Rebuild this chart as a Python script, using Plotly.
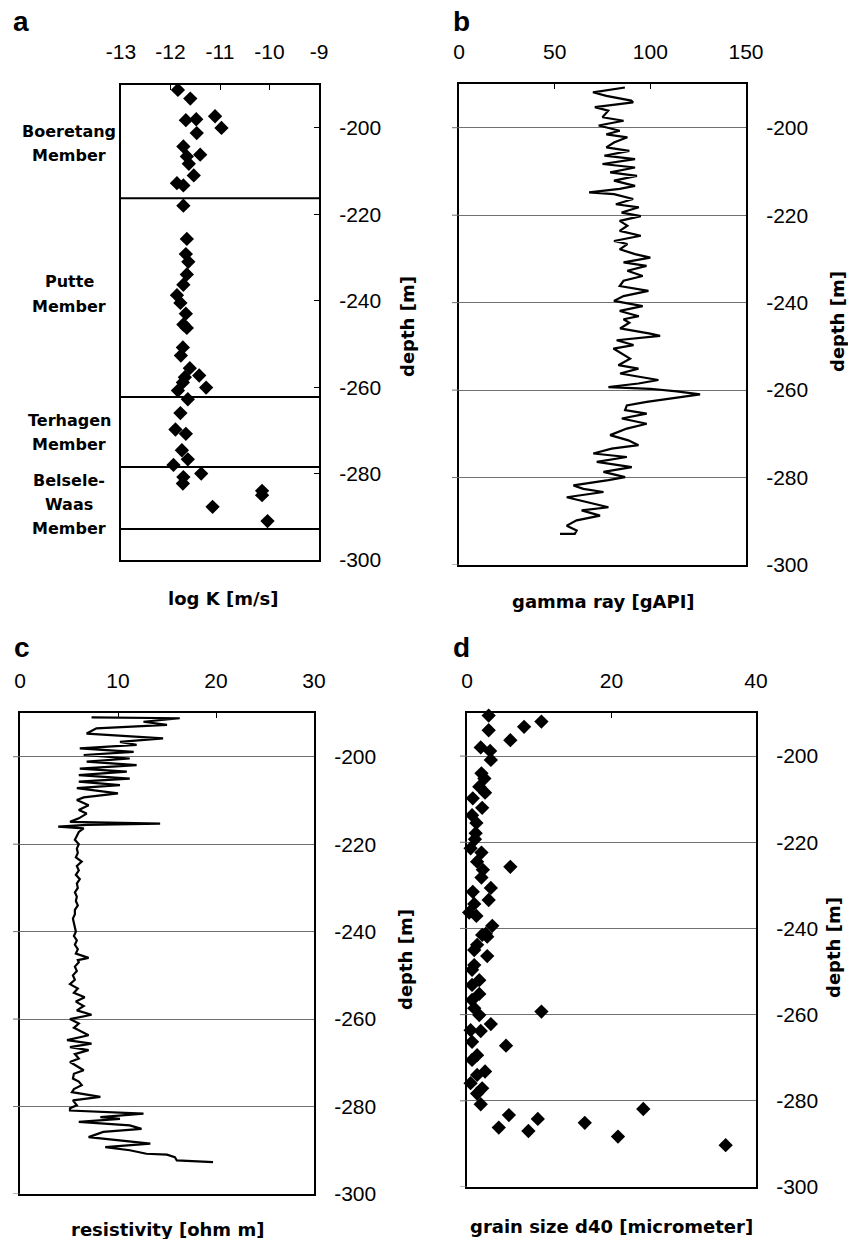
import plotly.graph_objects as go

W, H = 848, 1239

# ---------------- data ----------------
# (a) hydraulic conductivity, log K [m/s] vs depth [m]
logk_depth = [-191.2, -193.2, -197.3, -198.2, -198.0, -200.0, -201.2, -204.3, -206.2, -206.6,
              -208.3, -211.0, -212.8, -213.3, -218.0, -225.7, -229.2, -231.0, -233.9, -236.3,
              -238.7, -240.5, -243.0, -245.5, -246.3, -250.8, -252.7, -255.6, -257.3, -257.7,
              -258.9, -260.1, -260.8, -262.8, -266.0, -269.8, -270.8, -274.6, -276.7, -278.0,
              -280.0, -280.8, -282.3, -284.0, -285.0, -287.7, -291.0]
logk_value = [-11.85, -11.60, -11.10, -11.69, -11.48, -10.97, -11.47, -11.74, -11.40, -11.67,
              -11.63, -11.53, -11.87, -11.74, -11.74, -11.67, -11.69, -11.64, -11.67, -11.74,
              -11.87, -11.80, -11.69, -11.74, -11.67, -11.75, -11.79, -11.61, -11.42, -11.71,
              -11.75, -11.28, -11.85, -11.65, -11.80, -11.90, -11.69, -11.77, -11.65, -11.94,
              -11.38, -11.74, -11.75, -10.15, -10.15, -11.15, -10.04]

# lithostratigraphic members and their lower boundaries
member_bounds = [-216.3, -262.3, -278.5, -292.8]
member_lines = [["Boeretang", "Member"], ["Putte", "Member"],
                ["Terhagen", "Member"], ["Belsele-", "Waas", "Member"]]

# (b) gamma ray log [gAPI]
gamma_depth = [-190.8, -191.9, -192.7, -193.8, -194.2, -195.3, -196.1, -197.6, -198.4, -199.5,
               -200.7, -201.5, -202.2, -203.4, -204.5, -205.3, -206.4, -207.2, -208.3, -209.1,
               -210.2, -211.0, -212.1, -213.3, -214.0, -214.8, -215.2, -216.3, -217.5, -218.2,
               -219.4, -220.2, -221.3, -222.4, -223.6, -224.7, -225.9, -226.6, -227.8, -228.9,
               -229.7, -230.8, -231.6, -232.7, -233.9, -235.0, -236.2, -237.3, -238.5, -239.6,
               -240.8, -241.9, -243.1, -243.8, -244.6,
               -245.9, -247.1, -247.6, -248.6, -249.7, -250.5, -251.6, -252.8, -254.3, -255.1,
               -256.2, -257.0, -257.7, -258.5, -259.3, -259.7, -260.3, -261.0, -261.9, -262.7,
               -263.5, -264.6, -265.4, -266.5, -267.7, -268.8, -270.3, -271.5, -272.6, -273.4,
               -274.5, -275.3, -276.4, -277.6, -278.7, -279.9, -280.6, -281.8, -282.6, -283.3,
               -284.5, -285.6, -286.8, -287.5, -288.7, -289.8, -291.0, -292.1, -292.9, -292.9]
gamma_value = [86.7, 70, 77, 90, 91, 71, 78, 75, 86, 73,
               84, 77, 88, 81, 77, 89, 76, 92, 75, 92,
               79, 93, 81, 92, 84, 68, 81, 91, 82, 94,
               85, 95, 84, 88, 84, 95, 81, 88, 84, 92,
               100, 86, 98, 88, 96, 86, 84, 99, 86, 81,
               96, 84, 94, 86, 89,
               84.2, 99.9, 105.1, 82.4, 91.2, 80.7, 85.1, 89.4, 83.3, 93.8,
               84.2, 93.8, 104.2, 93.8, 78.1, 99.9, 113.8, 126.0, 110.3, 98.1,
               87.7, 86.8, 98.1, 85.1, 98.1, 87.7, 79.0, 88.5, 93.8, 79.8,
               70.2, 87.7, 72.0, 90.3, 75.5, 86.8, 78.1, 59.8, 65.0, 75.5,
               56.3, 66.8, 78.1, 64.1, 73.7, 61.5, 56.3, 61.5, 60.5, 52.8]

# (c) resistivity log [ohm m]
res_depth = [-191.0, -191.2, -192.0, -192.7, -193.5, -194.7, -195.8, -196.6, -197.3, -198.1,
             -198.9, -199.6, -200.4, -201.1, -201.9, -202.7, -203.4, -204.2, -205.0, -205.7,
             -206.5, -207.2, -208.4, -209.3, -209.9, -211.1, -212.2, -213.0, -214.1, -214.9,
             -215.3, -215.6, -216.0, -216.4, -217.2,
             -218, -219, -220, -221, -222, -223, -224, -225, -226, -227,
             -228, -229, -230, -231, -232, -233, -234, -235, -236, -237,
             -238, -239, -240, -241, -242, -243, -244, -245, -246, -246.5,
             -247, -248, -249, -250, -251, -252, -253, -254, -255, -256,
             -257, -258, -259, -260, -261, -262, -263, -263.7, -264.8, -265.6,
             -266.4, -267.1, -268, -269, -269.8, -271, -271.7, -272.5, -273.6, -274.3,
             -275.1, -276, -276.7, -277.8, -278.6, -279.7, -280.4, -280.9,
             -281.3, -281.6, -282.4, -282.8, -283.5, -284.3, -285.1, -285.8, -287.0, -287.7,
             -288.5, -289.3, -290.0, -290.8, -291.0, -291.6, -292.3, -292.7]
res_value = [7.3, 16.3, 12.6, 15.0, 7.8, 6.8, 14.6, 10.2, 11.9, 6.1,
             11.6, 6.5, 11.2, 6.8, 11.9, 6.1, 10.9, 6.0, 11.2, 6.0,
             10.2, 5.8, 10.0, 6.5, 5.8, 7.0, 6.0, 6.8, 6.0, 5.1,
             14.3, 6.8, 3.9, 6.5, 6.0,
             5.8, 5.6, 6.0, 5.8, 5.9, 5.7, 6.3, 5.8, 6.0, 5.7,
             6.1, 5.8, 5.9, 5.6, 5.8, 5.7, 5.9, 5.6, 5.6, 5.4,
             5.5, 5.6, 5.7, 5.5, 5.8, 5.6, 5.9, 5.7, 7.0, 5.9,
             6.0, 5.6, 5.8, 5.4, 5.6, 5.1, 5.9, 5.5, 6.6, 5.7,
             6.5, 5.8, 7.3, 5.1, 6.0, 5.5, 6.3, 7.0, 4.8, 7.3,
             5.1, 7.0, 5.6, 6.0, 5.1, 5.9, 6.5, 5.5, 5.4, 6.0,
             6.3, 5.5, 5.3, 8.2, 5.4, 5.8, 5.1, 5.1,
             8.8, 12.6, 8.2, 10.2, 6.0, 11.2, 12.4, 8.5, 7.0, 10.2,
             13.3, 8.7, 11.2, 12.9, 15.0, 15.8, 16.0, 19.7]

# (d) grain size d40 [micrometer]
d40_depth = [-190.6, -192.0, -193.2, -194.0, -196.3, -198.0, -198.8, -200.9, -204.0, -205.2,
             -207.1, -208.5, -209.8, -212.0, -213.7, -215.5, -217.9, -219.3, -221.4, -222.4,
             -224.5, -225.7, -226.4, -228.2, -230.6, -231.5, -233.4, -234.3, -236.3, -237.1,
             -239.4, -241.2, -241.9, -241.5, -243.8, -245.0, -246.4, -248.5, -249.6, -252.0,
             -253.1, -255.2, -256.6, -258.5, -259.3, -260.1, -262.2, -263.6, -263.8, -266.3,
             -267.2, -269.4, -270.5, -273.2, -274.0, -275.9, -277.1, -278.3, -280.8, -281.9,
             -283.3, -284.2, -285.1, -286.2, -287.0, -288.3, -290.3]
d40_value = [3.0, 10.3, 7.9, 3.0, 6.0, 1.9, 3.2, 3.3, 2.0, 2.4,
             1.7, 2.5, 0.8, 2.1, 0.7, 1.3, 1.2, 1.1, 0.5, 2.0,
             1.4, 6.0, 2.2, 2.0, 3.3, 0.8, 3.0, 1.0, 0.3, 1.3,
             3.5, 2.6, 2.8, 2.1, 1.4, 1.0, 2.8, 1.0, 0.7, 1.7,
             0.7, 1.7, 0.7, 1.0, 10.3, 1.7, 3.3, 0.5, 1.9, 0.7,
             5.4, 1.4, 0.7, 2.5, 1.4, 0.5, 2.1, 1.4, 1.9, 24.4,
             5.8, 9.8, 16.3, 4.4, 8.5, 20.9, 35.8]

# tick positions and labels
logk_ticks = [-13, -12, -11, -10, -9]
gamma_ticks = [0, 50, 100, 150]
res_ticks = [0, 10, 20, 30]
d40_ticks = [0, 20, 40]
depth_ticks = [-300, -280, -260, -240, -220, -200]
DEPTH_RANGE = [-300, -190]

# ---------------- styling helpers ----------------
TICK_FONT = dict(family="Liberation Sans, Arial, sans-serif", size=21, color="black")
BOLD_FONT = dict(family="DejaVu Sans, sans-serif", size=18, color="black")
LETTER_FONT = dict(family="Liberation Sans, Arial, sans-serif", size=28, color="black")
GRID = "#707070"


def fx(x):
    return x / W


def fy(y):
    return 1 - y / H


def hyphen(v):
    # plain ASCII hyphen for negative labels
    return str(v).replace("\u2212", "-")


def top_xaxis(x0, x1, ticks, anchor):
    return dict(domain=[fx(x0), fx(x1)], range=[ticks[0], ticks[-1]],
                tickmode="array", tickvals=ticks, ticktext=[hyphen(t) for t in ticks],
                side="top", anchor=anchor, ticks="inside", ticklen=5, tickwidth=1,
                tickcolor="black", showline=True, linecolor="black", linewidth=2,
                mirror=True, showgrid=False, zeroline=False, tickfont=TICK_FONT,
                ticklabelstandoff=15, automargin=False, fixedrange=True)


def depth_yaxis(y0, y1, anchor, grid):
    return dict(domain=[fy(y1), fy(y0)], range=DEPTH_RANGE,
                tickmode="array", tickvals=depth_ticks,
                ticktext=[hyphen(t) for t in depth_ticks],
                anchor=anchor, side="right", ticks="" if grid else "inside",
                ticklen=5, tickwidth=1, tickcolor="black",
                showline=True, linecolor="black", linewidth=2, mirror=True,
                showgrid=grid, gridcolor=GRID, gridwidth=1, zeroline=False,
                tickfont=TICK_FONT, ticklabelstandoff=14, automargin=False,
                fixedrange=True)


# panel frames (pixel boxes: left, right, top, bottom)
boxes = {
    "a": (121, 319, 84.7, 560),
    "b": (459, 746, 84, 565),
    "c": (20, 314, 713, 1194),
    "d": (467, 756, 713, 1187),
}
ba, bb, bc, bd = boxes["a"], boxes["b"], boxes["c"], boxes["d"]

layout = dict(
    template="none",
    width=W, height=H, margin=dict(l=0, r=0, t=0, b=0, pad=0, autoexpand=False),
    paper_bgcolor="white", plot_bgcolor="white", showlegend=False,
    xaxis=top_xaxis(ba[0], ba[1], logk_ticks, "y"),
    yaxis=depth_yaxis(ba[2], ba[3], "x", False),
    xaxis2=top_xaxis(bb[0], bb[1], gamma_ticks, "y2"),
    yaxis2=depth_yaxis(bb[2], bb[3], "x2", True),
    xaxis3=top_xaxis(bc[0], bc[1], res_ticks, "y3"),
    yaxis3=depth_yaxis(bc[2], bc[3], "x3", True),
    xaxis4=top_xaxis(bd[0], bd[1], d40_ticks, "y4"),
    yaxis4=depth_yaxis(bd[2], bd[3], "x4", True),
)

fig = go.Figure()

# ---------------- traces ----------------
diamond = dict(symbol="diamond", size=11, color="black", line=dict(width=0))
fig.add_trace(go.Scatter(x=logk_value, y=logk_depth, mode="markers", marker=diamond,
                         xaxis="x", yaxis="y", cliponaxis=False))
fig.add_trace(go.Scatter(x=gamma_value, y=gamma_depth, mode="lines",
                         line=dict(color="black", width=2.2), xaxis="x2", yaxis="y2"))
fig.add_trace(go.Scatter(x=res_value, y=res_depth, mode="lines",
                         line=dict(color="black", width=2.2), xaxis="x3", yaxis="y3"))
fig.add_trace(go.Scatter(x=d40_value, y=d40_depth, mode="markers", marker=diamond,
                         xaxis="x4", yaxis="y4", cliponaxis=False))

shapes = []
# member boundaries in panel a
for b in member_bounds:
    shapes.append(dict(type="line", xref="x domain", yref="y", x0=0, x1=1, y0=b, y1=b,
                       line=dict(color="black", width=2)))
# short tick marks outside the left frame of the gridded panels
for key, ax in (("b", "2"), ("c", "3"), ("d", "4")):
    left, right = boxes[key][0], boxes[key][1]
    stub = 7.0 / (right - left)
    for t in depth_ticks:
        shapes.append(dict(type="line", xref="x%s domain" % ax, yref="y%s" % ax,
                           x0=-stub, x1=0, y0=t, y1=t, line=dict(color=GRID, width=1)))
layout["shapes"] = shapes

annotations = []


def text(x, y, s, font, angle=0):
    annotations.append(dict(x=fx(x), y=fy(y), xref="paper", yref="paper", text=s,
                            showarrow=False, font=font, textangle=angle,
                            xanchor="center", yanchor="middle"))


# panel letters
for letter, (x, y) in zip("abcd", [(21, 22), (461, 22), (22, 647), (461, 647)]):
    text(x, y, "<b>%s</b>" % letter, LETTER_FONT)

# axis titles below each panel
text(223, 599, "<b>log K [m/s]</b>", BOLD_FONT)
text(603, 601, "<b>gamma ray [gAPI]</b>", BOLD_FONT)
text(167, 1229, "<b>resistivity [ohm m]</b>", BOLD_FONT)
text(611, 1226, "<b>grain size d40 [micrometer]</b>", BOLD_FONT)

# depth titles on the right
for (x, y) in [(407, 327), (837, 322), (405, 960), (833, 948)]:
    text(x, y, "<b>depth [m]</b>", BOLD_FONT, angle=-90)

# member names
member_font = dict(family="DejaVu Sans, sans-serif", size=16, color="black")
member_rows = [[131, 156], [282, 306], [420, 445], [480, 504, 528]]
for lines, rows in zip(member_lines, member_rows):
    for s, y in zip(lines, rows):
        text(69, y, "<b>%s</b>" % s, member_font)

layout["annotations"] = annotations
fig.update_layout(**layout)

fig.write_html("out.html")
